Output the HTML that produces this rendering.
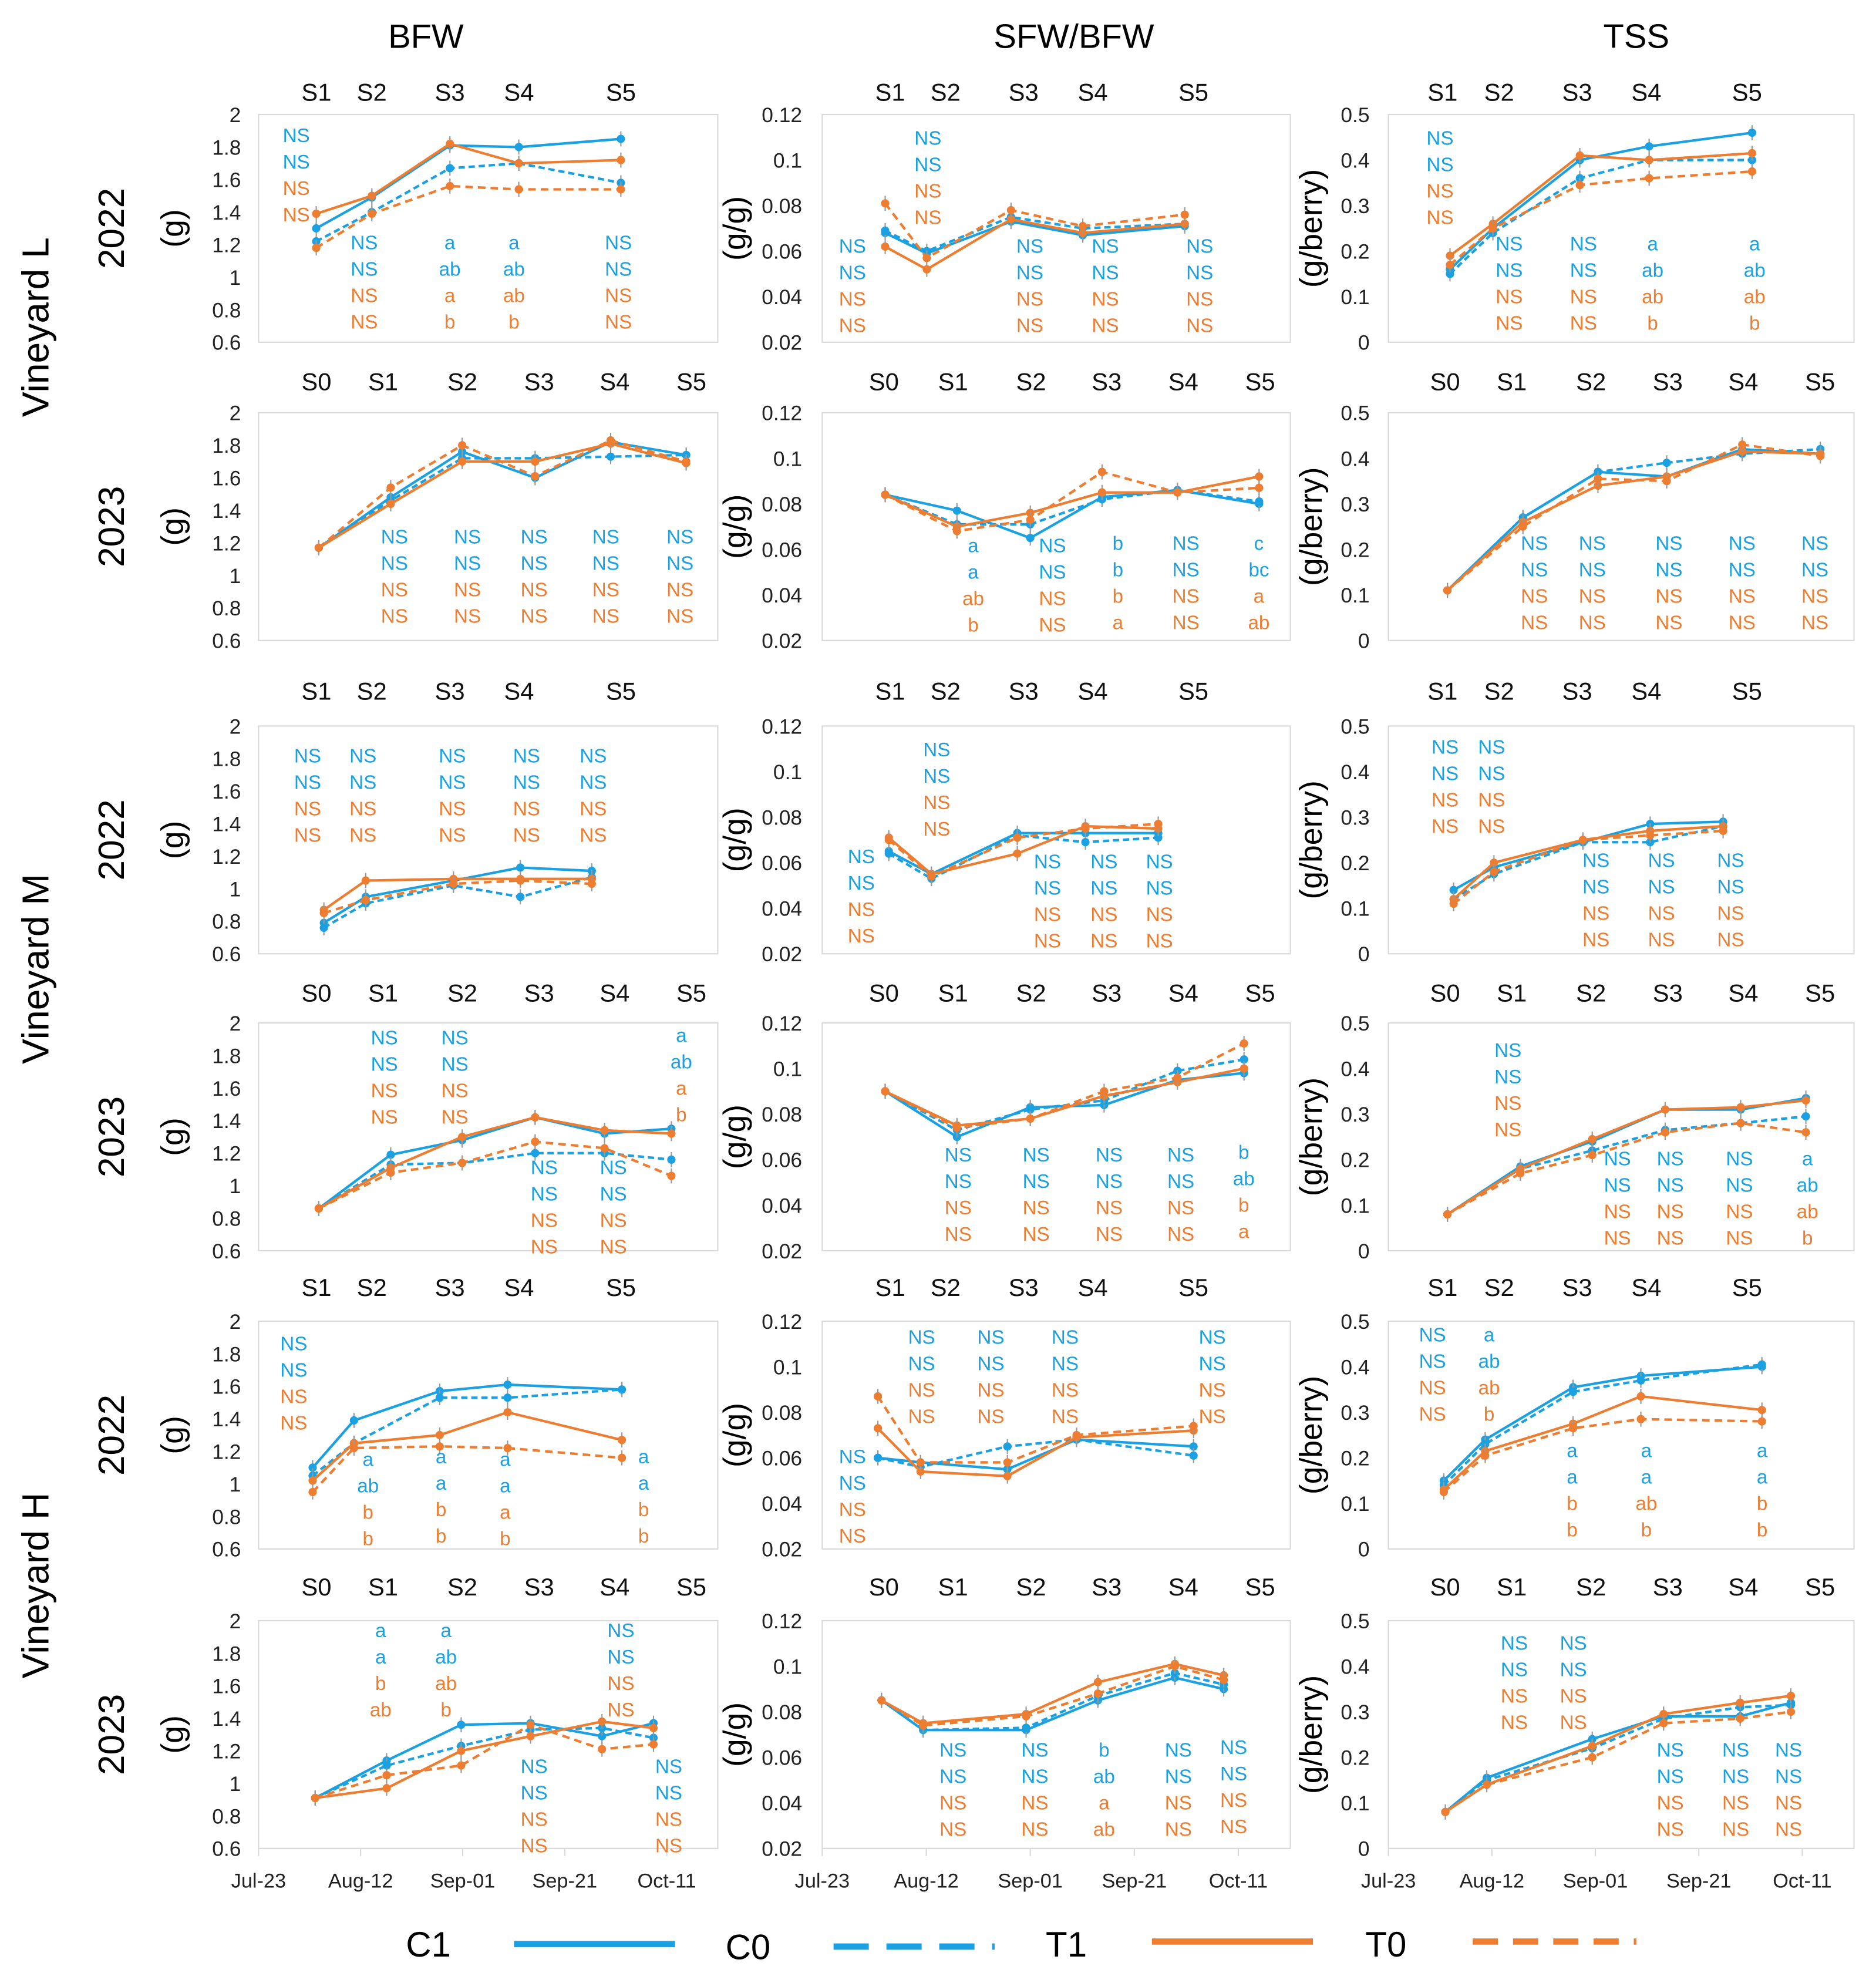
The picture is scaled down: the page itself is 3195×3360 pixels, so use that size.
<!DOCTYPE html>
<html><head><meta charset="utf-8"><title>Berry development charts</title>
<style>
html,body{margin:0;padding:0;background:#fff;}
svg{display:block;font-family:"Liberation Sans",Arial,sans-serif;}
</style></head>
<body>
<svg id="fig" xmlns="http://www.w3.org/2000/svg" width="3195" height="3360" viewBox="0 0 1490 1568">
<rect x="0" y="0" width="1490" height="1568" fill="#fff"/>
<text x="338" y="38" font-size="27" text-anchor="middle">BFW</text>
<text x="853" y="38" font-size="27" text-anchor="middle">SFW/BFW</text>
<text x="1300" y="38" font-size="27" text-anchor="middle">TSS</text>
<text transform="translate(38,260) rotate(-90)" font-size="30" text-anchor="middle">Vineyard L</text>
<text transform="translate(38,770) rotate(-90)" font-size="30" text-anchor="middle">Vineyard M</text>
<text transform="translate(38,1260) rotate(-90)" font-size="30" text-anchor="middle">Vineyard H</text>
<g>
<text x="340" y="1555" font-size="28" text-anchor="middle">C1</text>
<line x1="408" y1="1545" x2="536" y2="1545" stroke="#1ba1e2" stroke-width="5"/>
<text x="594" y="1557" font-size="28" text-anchor="middle">C0</text>
<line x1="662" y1="1547" x2="790" y2="1547" stroke="#1ba1e2" stroke-width="5" stroke-dasharray="28,14"/>
<text x="847" y="1555" font-size="28" text-anchor="middle">T1</text>
<line x1="915" y1="1543" x2="1043" y2="1543" stroke="#ed7d31" stroke-width="5"/>
<text x="1101" y="1555" font-size="28" text-anchor="middle">T0</text>
<line x1="1170" y1="1543" x2="1300" y2="1543" stroke="#ed7d31" stroke-width="5" stroke-dasharray="20,12"/>
</g>
</svg>
<script>
// ---- data: days since Jul-23, values per treatment ----
const L22_BFW_days=[11.3,22.2,37.5,51.0,71.0];
const L22_BFW_C1=[1.30,1.49,1.81,1.80,1.85];
const L22_BFW_C0=[1.22,1.40,1.67,1.70,1.58];
const L22_BFW_T1=[1.39,1.50,1.82,1.70,1.72];
const L22_BFW_T0=[1.18,1.39,1.56,1.54,1.54];
const L22_SFW_days=[12.1,20.1,36.3,50.1,69.7];
const L22_SFW_C1=[0.068,0.059,0.073,0.067,0.071];
const L22_SFW_C0=[0.069,0.060,0.075,0.070,0.072];
const L22_SFW_T1=[0.062,0.052,0.074,0.068,0.072];
const L22_SFW_T0=[0.081,0.057,0.078,0.071,0.076];
const L22_TSS_days=[11.9,20.2,37.0,50.4,70.3];
const L22_TSS_C1=[0.16,0.25,0.40,0.43,0.46];
const L22_TSS_C0=[0.15,0.24,0.36,0.40,0.40];
const L22_TSS_T1=[0.19,0.26,0.41,0.40,0.415];
const L22_TSS_T0=[0.17,0.25,0.345,0.36,0.375];
const L23_BFW_days=[11.8,25.9,39.9,54.2,69.0,83.8];
const L23_BFW_C1=[1.17,1.48,1.76,1.60,1.82,1.74];
const L23_BFW_C0=[1.17,1.46,1.72,1.72,1.73,1.74];
const L23_BFW_T1=[1.17,1.44,1.70,1.70,1.81,1.69];
const L23_BFW_T0=[1.17,1.54,1.80,1.61,1.83,1.70];
const L23_SFW_days=[12.1,25.9,40.0,53.8,68.3,84.0];
const L23_SFW_C1=[0.084,0.077,0.065,0.083,0.086,0.080];
const L23_SFW_C0=[0.084,0.071,0.071,0.082,0.086,0.081];
const L23_SFW_T1=[0.084,0.070,0.076,0.085,0.085,0.092];
const L23_SFW_T0=[0.084,0.068,0.073,0.094,0.085,0.087];
const L23_TSS_days=[11.4,26.0,40.5,53.8,68.4,83.5];
const L23_TSS_C1=[0.11,0.27,0.37,0.36,0.42,0.41];
const L23_TSS_C0=[0.11,0.27,0.37,0.39,0.41,0.42];
const L23_TSS_T1=[0.11,0.26,0.34,0.36,0.415,0.41];
const L23_TSS_T0=[0.11,0.25,0.355,0.35,0.43,0.405];
const M22_BFW_days=[12.8,21.0,38.2,51.3,65.3];
const M22_BFW_C1=[0.79,0.95,1.05,1.13,1.11];
const M22_BFW_C0=[0.76,0.91,1.02,0.95,1.07];
const M22_BFW_T1=[0.87,1.05,1.06,1.06,1.06];
const M22_BFW_T0=[0.85,0.93,1.03,1.05,1.03];
const M22_SFW_days=[12.8,21.0,37.5,50.6,64.6];
const M22_SFW_C1=[0.065,0.055,0.073,0.073,0.073];
const M22_SFW_C0=[0.064,0.053,0.072,0.069,0.071];
const M22_SFW_T1=[0.071,0.055,0.064,0.076,0.075];
const M22_SFW_T0=[0.070,0.054,0.071,0.075,0.077];
const M22_TSS_days=[12.6,20.4,37.6,50.6,64.7];
const M22_TSS_C1=[0.14,0.19,0.245,0.285,0.29];
const M22_TSS_C0=[0.12,0.175,0.245,0.245,0.28];
const M22_TSS_T1=[0.12,0.20,0.25,0.27,0.28];
const M22_TSS_T0=[0.11,0.18,0.25,0.26,0.27];
const M23_BFW_days=[11.8,25.9,39.9,54.2,67.8,80.9];
const M23_BFW_C1=[0.86,1.19,1.28,1.42,1.32,1.35];
const M23_BFW_C0=[0.86,1.13,1.14,1.20,1.20,1.16];
const M23_BFW_T1=[0.86,1.11,1.30,1.42,1.34,1.32];
const M23_BFW_T0=[0.86,1.08,1.14,1.27,1.23,1.06];
const M23_SFW_days=[12.1,25.9,40.0,54.2,68.3,81.1];
const M23_SFW_C1=[0.090,0.070,0.083,0.084,0.095,0.098];
const M23_SFW_C0=[0.090,0.073,0.082,0.086,0.099,0.104];
const M23_SFW_T1=[0.090,0.075,0.078,0.088,0.094,0.100];
const M23_SFW_T0=[0.090,0.074,0.078,0.090,0.096,0.111];
const M23_TSS_days=[11.4,25.5,39.4,53.5,68.1,80.7];
const M23_TSS_C1=[0.08,0.185,0.24,0.31,0.31,0.335];
const M23_TSS_C0=[0.08,0.18,0.22,0.265,0.28,0.295];
const M23_TSS_T1=[0.08,0.18,0.245,0.31,0.315,0.33];
const M23_TSS_T0=[0.08,0.17,0.21,0.26,0.28,0.26];
const H22_BFW_days=[10.6,18.7,35.5,48.8,71.2];
const H22_BFW_C1=[1.10,1.39,1.57,1.61,1.58];
const H22_BFW_C0=[1.05,1.25,1.53,1.53,1.58];
const H22_BFW_T1=[1.02,1.25,1.30,1.44,1.27];
const H22_BFW_T0=[0.95,1.22,1.23,1.22,1.16];
const H22_SFW_days=[10.7,18.9,35.6,48.9,71.4];
const H22_SFW_C1=[0.060,0.058,0.055,0.068,0.065];
const H22_SFW_C0=[0.060,0.056,0.065,0.068,0.061];
const H22_SFW_T1=[0.073,0.054,0.052,0.069,0.072];
const H22_SFW_T0=[0.087,0.058,0.058,0.070,0.074];
const H22_TSS_days=[10.7,18.7,35.7,48.8,72.2];
const H22_TSS_C1=[0.15,0.24,0.355,0.38,0.40];
const H22_TSS_C0=[0.14,0.23,0.345,0.37,0.405];
const H22_TSS_T1=[0.13,0.215,0.275,0.335,0.305];
const H22_TSS_T0=[0.125,0.205,0.265,0.285,0.28];
const H23_BFW_days=[11.1,25.1,39.7,53.3,67.3,77.4];
const H23_BFW_C1=[0.91,1.14,1.36,1.37,1.29,1.37];
const H23_BFW_C0=[0.91,1.11,1.23,1.33,1.34,1.28];
const H23_BFW_T1=[0.91,0.97,1.20,1.29,1.38,1.34];
const H23_BFW_T0=[0.91,1.05,1.11,1.36,1.21,1.24];
const H23_SFW_days=[11.4,19.4,39.2,53.0,67.8,77.2];
const H23_SFW_C1=[0.085,0.072,0.072,0.085,0.095,0.090];
const H23_SFW_C0=[0.085,0.072,0.073,0.087,0.097,0.092];
const H23_SFW_T1=[0.085,0.075,0.079,0.093,0.101,0.096];
const H23_SFW_T0=[0.085,0.074,0.078,0.088,0.100,0.094];
const H23_TSS_days=[11.0,19.0,39.4,53.2,68.0,77.8];
const H23_TSS_C1=[0.08,0.155,0.24,0.29,0.29,0.32];
const H23_TSS_C0=[0.08,0.15,0.22,0.285,0.31,0.315];
const H23_TSS_T1=[0.08,0.14,0.225,0.295,0.32,0.335];
const H23_TSS_T0=[0.08,0.14,0.20,0.275,0.285,0.30];

const bfwTicks=["2","1.8","1.6","1.4","1.2","1","0.8","0.6"];
const sfwTicks=["0.12","0.1","0.08","0.06","0.04","0.02"];
const tssTicks=["0.5","0.4","0.3","0.2","0.1","0"];
const dateLabels=["Jul-23","Aug-12","Sep-01","Sep-21","Oct-11"];
const dateDays=[0,20,40,60,80];
const stages22=["S1","S2","S3","S4","S5"];
const stages23=["S0","S1","S2","S3","S4","S5"];

// significance letter groups: [x, y, "blue1,blue2,orange1,orange2"]
const letters=[
 [[[235,108,"NS,NS,NS,NS"],[289,193,"NS,NS,NS,NS"],[357,193,"a,ab,a,b"],[408,193,"a,ab,ab,b"],[491,193,"NS,NS,NS,NS"]],
  [[737,110,"NS,NS,NS,NS"],[677,196,"NS,NS,NS,NS"],[818,196,"NS,NS,NS,NS"],[878,196,"NS,NS,NS,NS"],[953,196,"NS,NS,NS,NS"]],
  [[1144,110,"NS,NS,NS,NS"],[1199,194,"NS,NS,NS,NS"],[1258,194,"NS,NS,NS,NS"],[1313,194,"a,ab,ab,b"],[1394,194,"a,ab,ab,b"]]],
 [[[313,427,"NS,NS,NS,NS"],[371,427,"NS,NS,NS,NS"],[424,427,"NS,NS,NS,NS"],[481,427,"NS,NS,NS,NS"],[540,427,"NS,NS,NS,NS"]],
  [[773,434,"a,a,ab,b"],[836,434,"NS,NS,NS,NS"],[888,432,"b,b,b,a"],[942,432,"NS,NS,NS,NS"],[1000,432,"c,bc,a,ab"]],
  [[1219,432,"NS,NS,NS,NS"],[1265,432,"NS,NS,NS,NS"],[1326,432,"NS,NS,NS,NS"],[1384,432,"NS,NS,NS,NS"],[1442,432,"NS,NS,NS,NS"]]],
 [[[244,601,"NS,NS,NS,NS"],[288,601,"NS,NS,NS,NS"],[359,601,"NS,NS,NS,NS"],[418,601,"NS,NS,NS,NS"],[471,601,"NS,NS,NS,NS"]],
  [[744,596,"NS,NS,NS,NS"],[684,681,"NS,NS,NS,NS"],[832,685,"NS,NS,NS,NS"],[877,685,"NS,NS,NS,NS"],[921,685,"NS,NS,NS,NS"]],
  [[1148,594,"NS,NS,NS,NS"],[1185,594,"NS,NS,NS,NS"],[1268,684,"NS,NS,NS,NS"],[1320,684,"NS,NS,NS,NS"],[1375,684,"NS,NS,NS,NS"]]],
 [[[305,825,"NS,NS,NS,NS"],[361,825,"NS,NS,NS,NS"],[541,823,"a,ab,a,b"],[432,928,"NS,NS,NS,NS"],[487,928,"NS,NS,NS,NS"]],
  [[761,918,"NS,NS,NS,NS"],[823,918,"NS,NS,NS,NS"],[881,918,"NS,NS,NS,NS"],[938,918,"NS,NS,NS,NS"],[988,916,"b,ab,b,a"]],
  [[1198,835,"NS,NS,NS,NS"],[1285,921,"NS,NS,NS,NS"],[1327,921,"NS,NS,NS,NS"],[1382,921,"NS,NS,NS,NS"],[1436,921,"a,ab,ab,b"]]],
 [[[233,1068,"NS,NS,NS,NS"],[292,1160,"a,ab,b,b"],[350,1158,"a,a,b,b"],[401,1160,"a,a,a,b"],[511,1158,"a,a,b,b"]],
  [[677,1158,"NS,NS,NS,NS"],[732,1063,"NS,NS,NS,NS"],[787,1063,"NS,NS,NS,NS"],[846,1063,"NS,NS,NS,NS"],[963,1063,"NS,NS,NS,NS"]],
  [[1138,1061,"NS,NS,NS,NS"],[1183,1061,"a,ab,ab,b"],[1249,1153,"a,a,b,b"],[1308,1153,"a,a,ab,b"],[1400,1153,"a,a,b,b"]]],
 [[[302,1296,"a,a,b,ab"],[354,1296,"a,ab,ab,b"],[493,1296,"NS,NS,NS,NS"],[424,1404,"NS,NS,NS,NS"],[531,1404,"NS,NS,NS,NS"]],
  [[757,1391,"NS,NS,NS,NS"],[822,1391,"NS,NS,NS,NS"],[877,1391,"b,ab,a,ab"],[936,1391,"NS,NS,NS,NS"],[980,1389,"NS,NS,NS,NS"]],
  [[1203,1306,"NS,NS,NS,NS"],[1250,1306,"NS,NS,NS,NS"],[1327,1391,"NS,NS,NS,NS"],[1379,1391,"NS,NS,NS,NS"],[1421,1391,"NS,NS,NS,NS"]]]
];

const rowData=[
 [[L22_BFW_days,L22_BFW_C1,L22_BFW_C0,L22_BFW_T1,L22_BFW_T0],[L22_SFW_days,L22_SFW_C1,L22_SFW_C0,L22_SFW_T1,L22_SFW_T0],[L22_TSS_days,L22_TSS_C1,L22_TSS_C0,L22_TSS_T1,L22_TSS_T0]],
 [[L23_BFW_days,L23_BFW_C1,L23_BFW_C0,L23_BFW_T1,L23_BFW_T0],[L23_SFW_days,L23_SFW_C1,L23_SFW_C0,L23_SFW_T1,L23_SFW_T0],[L23_TSS_days,L23_TSS_C1,L23_TSS_C0,L23_TSS_T1,L23_TSS_T0]],
 [[M22_BFW_days,M22_BFW_C1,M22_BFW_C0,M22_BFW_T1,M22_BFW_T0],[M22_SFW_days,M22_SFW_C1,M22_SFW_C0,M22_SFW_T1,M22_SFW_T0],[M22_TSS_days,M22_TSS_C1,M22_TSS_C0,M22_TSS_T1,M22_TSS_T0]],
 [[M23_BFW_days,M23_BFW_C1,M23_BFW_C0,M23_BFW_T1,M23_BFW_T0],[M23_SFW_days,M23_SFW_C1,M23_SFW_C0,M23_SFW_T1,M23_SFW_T0],[M23_TSS_days,M23_TSS_C1,M23_TSS_C0,M23_TSS_T1,M23_TSS_T0]],
 [[H22_BFW_days,H22_BFW_C1,H22_BFW_C0,H22_BFW_T1,H22_BFW_T0],[H22_SFW_days,H22_SFW_C1,H22_SFW_C0,H22_SFW_T1,H22_SFW_T0],[H22_TSS_days,H22_TSS_C1,H22_TSS_C0,H22_TSS_T1,H22_TSS_T0]],
 [[H23_BFW_days,H23_BFW_C1,H23_BFW_C0,H23_BFW_T1,H23_BFW_T0],[H23_SFW_days,H23_SFW_C1,H23_SFW_C0,H23_SFW_T1,H23_SFW_T0],[H23_TSS_days,H23_TSS_C1,H23_TSS_C0,H23_TSS_T1,H23_TSS_T0]]
];

// ---- layout ----
const NSURI="http://www.w3.org/2000/svg";
const svg=document.getElementById("fig");
const rowTop=[91,328,577,813,1050,1288];
const rowH=181;
const colX=[205,653,1103];
const colW=[365,372,370];
const domains=[[0.6,2],[0.02,0.12],[0,0.5]];
const tickSets=[bfwTicks,sfwTicks,tssTicks];
const tickRight=[191,637,1088];
const unitX=[145,592,1050];
const units=["(g)","(g/g)","(g/berry)"];
const yearX=98;
const years=["2022","2023","2022","2023","2022","2023"];
const stageY=[80,310,556,796,1030,1268];
const stageX22=[[251,295,357,412,493],[707,751,813,868,948],[1146,1191,1253,1308,1388]];
const stageX23=[[251,304,367,428,488,549],[702,757,819,879,940,1001],[1148,1201,1264,1325,1385,1446]];
const seriesNames=["c1","c0","t1","t0"];
const seriesColor=["#1ba1e2","#1ba1e2","#ed7d31","#ed7d31"];
const seriesDash=[null,"5,3",null,"6,4"];

function mk(tag,parent){const e=document.createElementNS(NSURI,tag);parent.appendChild(e);return e;}
function txt(parent,x,y,s,size,anchor,fill){
 const t=mk("text",parent);t.setAttribute("x",x);t.setAttribute("y",y);t.setAttribute("font-size",size);
 t.setAttribute("text-anchor",anchor||"middle");if(fill)t.setAttribute("fill",fill);t.textContent=s;return t;}

for(let r=0;r<6;r++){
 const yt=txt(svg,0,0,years[r],29,"middle");
 yt.setAttribute("transform","translate("+yearX+","+(rowTop[r]+rowH/2)+") rotate(-90)");
 
 
 for(let c=0;c<3;c++){
  const g=mk("g",svg);
  
  
  const x0=colX[c],w=colW[c],y0=rowTop[r],h=rowH;
  const dom=domains[c];
  const xs=d=>x0+d/90*w;
  const ys=v=>y0+h-(v-dom[0])/(dom[1]-dom[0])*h;
  const fr=mk("rect",g);
  fr.setAttribute("x",x0);fr.setAttribute("y",y0);fr.setAttribute("width",w);fr.setAttribute("height",h);
  fr.setAttribute("fill","none");fr.setAttribute("stroke","#d9d9d9");fr.setAttribute("stroke-width","1");
  
  
  const ticks=tickSets[c];
  ticks.forEach(s=>{
   const v=parseFloat(s);
   const t=txt(g,tickRight[c],ys(v)+6,s,16.5,"end","#222");
   
   
  });
  const u=txt(g,0,0,units[c],25,"middle");
  u.setAttribute("transform","translate("+unitX[c]+","+(y0+h/2)+") rotate(-90)");
  
  
  const st=(r%2==0)?stages22:stages23;
  const sx=(r%2==0)?stageX22[c]:stageX23[c];
  st.forEach((s,i)=>{
   const t=txt(g,sx[i],stageY[r],s,19.5,"middle","#111");
   
   
  });
  if(r==5){
   dateLabels.forEach((s,i)=>{
    const t=txt(g,xs(dateDays[i]),y0+h+31,s,16,"middle","#222");
    
    
    const tk=mk("line",g);
    tk.setAttribute("x1",xs(dateDays[i]));tk.setAttribute("x2",xs(dateDays[i]));
    tk.setAttribute("y1",y0+h);tk.setAttribute("y2",y0+h+6);tk.setAttribute("stroke","#d9d9d9");
    
    
   });
  }
  const pd=rowData[r][c];
  const days=pd[0];
  for(let s=0;s<4;s++){
   const vals=pd[s+1];
   const pts=vals.map((v,i)=>xs(days[i]).toFixed(1)+","+ys(v).toFixed(1)).join(" ");
   const pl=mk("polyline",g);
   pl.setAttribute("points",pts);pl.setAttribute("fill","none");
   pl.setAttribute("stroke",seriesColor[s]);pl.setAttribute("stroke-width","2");
   if(seriesDash[s])pl.setAttribute("stroke-dasharray",seriesDash[s]);
   
   
   vals.forEach((v,i)=>{
    const eb=mk("line",g);
    eb.setAttribute("x1",xs(days[i]));eb.setAttribute("x2",xs(days[i]));
    eb.setAttribute("y1",ys(v)-6);eb.setAttribute("y2",ys(v)+6);
    eb.setAttribute("stroke","#999");eb.setAttribute("stroke-width","1");
    
    
    const m=mk("circle",g);
    m.setAttribute("cx",xs(days[i]));m.setAttribute("cy",ys(v));m.setAttribute("r","3.3");
    m.setAttribute("fill",seriesColor[s]);
    
    
   });
  }
  letters[r][c].forEach(grp=>{
   const parts=grp[2].split(",");
   parts.forEach((s,k)=>{
    const t=txt(g,grp[0],grp[1]+5+k*21,s,15.5,"middle",k<2?"#1ba1e2":"#ed7d31");
    
    
   });
  });
 }
}
</script>
</body></html>
